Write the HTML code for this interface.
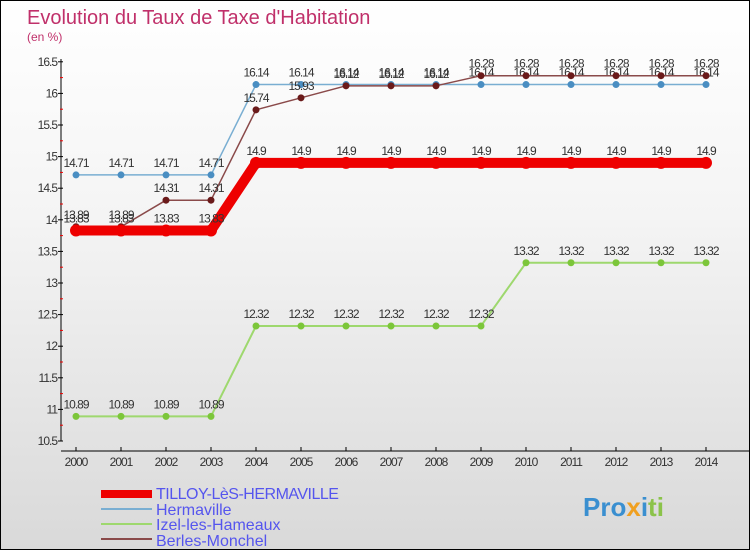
<!DOCTYPE html>
<html><head><meta charset="utf-8"><style>
body{margin:0}
#c{width:748px;height:548px;border:1px solid #000;position:relative;overflow:hidden;background:linear-gradient(#fff 0%,#f4f4f4 40%,#d9d9d9 100%);font-family:"Liberation Sans",sans-serif}
</style></head><body>
<div id="c">
<svg id="s" width="748" height="548" xmlns="http://www.w3.org/2000/svg">
<text x="26" y="23" font-size="20" fill="#c0306a">Evolution du Taux de Taxe d'Habitation</text>
<text x="26" y="40" font-size="12" fill="#c0306a">(en %)</text>
<g id="axes"></g><g id="series"></g>
<g>
<rect x="100" y="489" width="51" height="8" fill="#e00"/>
<text x="155" y="498" font-size="16" fill="#55e" letter-spacing="-0.5">TILLOY-LèS-HERMAVILLE</text>
<line x1="100" y1="508" x2="151" y2="508" stroke="#79aed2" stroke-width="2"/>
<text x="155" y="514" font-size="16" fill="#55e">Hermaville</text>
<line x1="100" y1="523" x2="151" y2="523" stroke="#9ed86e" stroke-width="2"/>
<text x="155" y="529" font-size="16" fill="#55e">Izel-les-Hameaux</text>
<line x1="100" y1="538" x2="151" y2="538" stroke="#8a4a4a" stroke-width="2"/>
<text x="155" y="545" font-size="16" fill="#55e">Berles-Monchel</text>
</g>
<text x="582" y="515" font-size="26" font-weight="bold"><tspan fill="#3a8fd0">Pro</tspan><tspan fill="#f0a020">x</tspan><tspan fill="#3a8fd0">i</tspan><tspan fill="#8bc34a">ti</tspan></text>
</svg></div>
<script>
const years=[2000,2001,2002,2003,2004,2005,2006,2007,2008,2009,2010,2011,2012,2013,2014];
const yTicks=[10.5,11,11.5,12,12.5,13,13.5,14,14.5,15,15.5,16,16.5];
const tilloy=[13.83,13.83,13.83,13.83,14.9,14.9,14.9,14.9,14.9,14.9,14.9,14.9,14.9,14.9,14.9];
const hermaville=[14.71,14.71,14.71,14.71,16.14,16.14,16.14,16.14,16.14,16.14,16.14,16.14,16.14,16.14,16.14];
const izel=[10.89,10.89,10.89,10.89,12.32,12.32,12.32,12.32,12.32,12.32,13.32,13.32,13.32,13.32,13.32];
const berles=[13.89,13.89,14.31,14.31,15.74,15.93,16.12,16.12,16.12,16.28,16.28,16.28,16.28,16.28,16.28];
const NS="http://www.w3.org/2000/svg";
const X=i=>75+i*45, Y=v=>440-(v-10.5)*63.2;
function mk(p,t,a){const e=document.createElementNS(NS,t);for(const k in a)e.setAttribute(k,a[k]);p.appendChild(e);return e;}
const ax=document.getElementById('axes'),sg=document.getElementById('series');
const yl=mk(ax,'line',{x1:60,y1:58,x2:60,y2:440,stroke:'#000'});


yTicks.forEach((v,i)=>{
 mk(ax,'line',{x1:57,x2:62,y1:Y(v),y2:Y(v),stroke:'#000'});
 if(i<yTicks.length-1)mk(ax,'line',{x1:59,x2:62,y1:Y(v+0.25),y2:Y(v+0.25),stroke:'#e00'});
 const t=mk(ax,'text',{x:56,y:Y(v)+4,'font-size':12,'text-anchor':'end',fill:'#333','letter-spacing':'-1'});t.textContent=v;
 
 
});
const xl=mk(ax,'line',{x1:60,y1:450,x2:748,y2:450,stroke:'#000'});


years.forEach((y,i)=>{
 mk(ax,'line',{x1:X(i),x2:X(i),y1:446,y2:450,stroke:'#000'});
 const t=mk(ax,'text',{x:X(i),y:465,'font-size':12,'text-anchor':'middle',fill:'#333','letter-spacing':'-1'});t.textContent=y;
 
 
});
function series(d,name,col,w,r,dot){
 const g=mk(sg,'g',{});
 
 
 mk(g,'polyline',{points:d.map((v,i)=>X(i)+','+Y(v)).join(' '),fill:'none',stroke:col,'stroke-width':w,'stroke-linejoin':'round'});
 d.forEach((v,i)=>{
  const c=mk(g,'circle',{cx:X(i),cy:Y(v),r:r,fill:dot});
  
  
  const t=mk(g,'text',{x:X(i),y:Y(v)-8,'font-size':12,'text-anchor':'middle',fill:'#333','letter-spacing':'-1'});t.textContent=v;
  
  
 });
}
series(izel,'izel-series','#9ed86e',2,3.5,'#7cc63a');
series(hermaville,'hermaville-series','#79aed2',1.5,3.5,'#4a8ec2');
series(berles,'berles-series','#8a4a4a',1.5,3.5,'#6a1a1a');
series(tilloy,'tilloy-series','#e00',10,6,'#e00');
</script>
</body></html>
